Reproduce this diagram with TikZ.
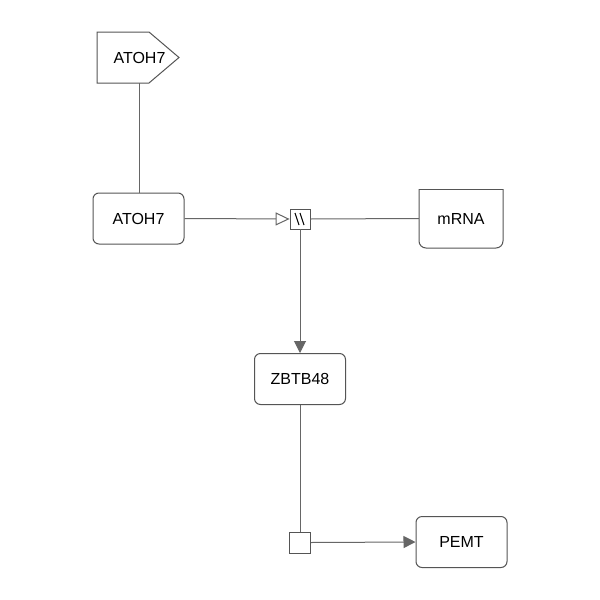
\documentclass[tikz,border=0pt]{standalone}
\usepackage{fontspec}
\setmainfont{Liberation Sans}
\usetikzlibrary{arrows.meta}
\definecolor{linec}{HTML}{666666}
\definecolor{borderc}{HTML}{555555}
\tikzset{
  every node/.style={font=\fontsize{16}{19}\selectfont, text=black},
  macro/.style={draw=borderc, line width=1pt, rounded corners=6pt, minimum width=91pt, minimum height=51pt, inner sep=0pt},
  conn/.style={draw=linec, line width=1pt},
  procbox/.style={draw=borderc, line width=0.8pt, fill=white, minimum size=20pt, inner sep=0pt},
  stim/.style={-{Triangle[open, length=14pt, width=13pt, fill=white]}},
  prod/.style={-{Triangle[length=12pt, width=12pt]}},
}
\begin{document}
\begin{tikzpicture}[x=1pt,y=-1pt]
\useasboundingbox (0,0) rectangle (600,600);
\fill[white] (0,0) rectangle (600,600);
% tag
\draw[draw=borderc, line width=1pt] (97,32) -- (149,32) -- (179,57.5) -- (149,83) -- (97,83) -- cycle;
\node (tag) at (139.5,57.5) {ATOH7};
\coordinate (tagb) at (139,83);
% ATOH7 macromolecule
\node[macro] (atoh) at (138.5,218.5) {ATOH7};
% mRNA nucleic acid feature
\draw[draw=borderc, line width=1pt, rounded corners=7pt] (419,189) -- (419,248) -- (503,248) -- (503,189);
\draw[draw=borderc, line width=1pt] (419,189) -- (503,189);
\node[minimum width=84pt, minimum height=59pt, inner sep=0pt] (mrna) at (461,218.5) {mRNA};
% process
\node[procbox] (p1) at (300,219) {};
\draw[black, line width=1.1pt] ([xshift=-5pt,yshift=6pt]p1.center) -- ([xshift=-1pt,yshift=-6pt]p1.center);
\draw[black, line width=1.1pt] ([xshift=0pt,yshift=6pt]p1.center) -- ([xshift=4pt,yshift=-6pt]p1.center);
% ZBTB48
\node[macro] (zbtb) at (300,379) {ZBTB48};
% process 2
\node[procbox, minimum size=21pt] (p2) at (300,542.5) {};
% PEMT
\node[macro] (pemt) at (461.5,542) {PEMT};
% connectors
\draw[conn] (tagb) -- (atoh.north -| tagb);
\draw[conn, stim] (atoh.east) -- (p1.west);
\draw[conn] (p1.east) -- (mrna.west);
\draw[conn, prod] (p1.south) -- (zbtb.north);
\draw[conn] (zbtb.south) -- (p2.north);
\draw[conn, prod] (p2.east) -- (pemt.west);
\end{tikzpicture}
\end{document}
